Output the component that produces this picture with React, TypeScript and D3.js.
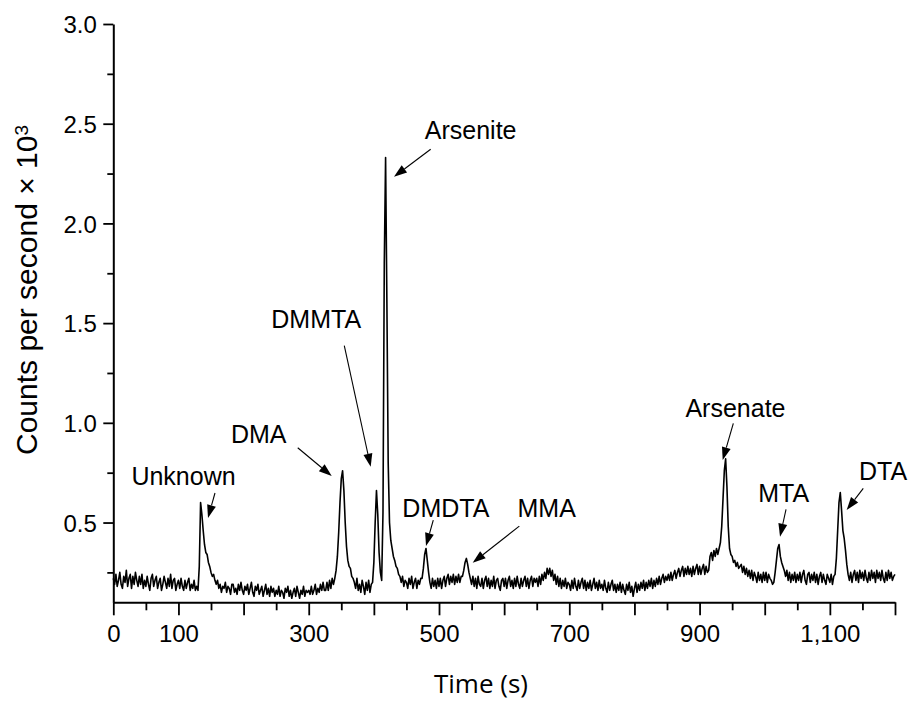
import { useEffect, useRef } from 'react'
import * as d3 from 'd3'

// detector readings, counts per second x 10^3, one every 2 s from 0 to 1200 s
const sampleStep = 2
const counts = [
  0.22, 0.19, 0.24, 0.18, 0.21, 0.25, 0.19, 0.17, 0.23, 0.20, 0.26, 0.18, 0.22, 0.24, 0.17, 0.23, 0.19, 0.25, 0.21, 0.18, 0.23, 0.19, 0.24, 0.17, 0.21,
  0.18, 0.23, 0.19, 0.16, 0.22, 0.24, 0.18, 0.21, 0.23, 0.17, 0.20, 0.22, 0.16, 0.19, 0.23, 0.20, 0.17, 0.22, 0.18, 0.24, 0.17, 0.21, 0.22, 0.16, 0.19,
  0.21, 0.17, 0.22, 0.18, 0.16, 0.21, 0.17, 0.20, 0.22, 0.16, 0.19, 0.17, 0.21, 0.16, 0.18, 0.16, 0.28, 0.60, 0.54, 0.46, 0.39, 0.35, 0.34, 0.30, 0.28,
  0.25, 0.23, 0.24, 0.21, 0.19, 0.21, 0.17, 0.19, 0.15, 0.18, 0.17, 0.20, 0.15, 0.18, 0.17, 0.14, 0.19, 0.19, 0.15, 0.17, 0.14, 0.19, 0.16, 0.20, 0.16,
  0.14, 0.18, 0.16, 0.19, 0.14, 0.17, 0.20, 0.15, 0.13, 0.18, 0.16, 0.19, 0.14, 0.16, 0.18, 0.13, 0.16, 0.19, 0.14, 0.17, 0.13, 0.18, 0.15, 0.17, 0.13,
  0.16, 0.14, 0.18, 0.13, 0.16, 0.15, 0.12, 0.17, 0.15, 0.18, 0.13, 0.16, 0.12, 0.15, 0.17, 0.13, 0.18, 0.15, 0.12, 0.16, 0.14, 0.18, 0.13, 0.16, 0.15,
  0.16, 0.14, 0.18, 0.14, 0.16, 0.19, 0.14, 0.17, 0.15, 0.19, 0.16, 0.20, 0.16, 0.16, 0.20, 0.16, 0.21, 0.17, 0.22, 0.19, 0.22, 0.26, 0.33, 0.45, 0.60,
  0.72, 0.76, 0.66, 0.50, 0.38, 0.31, 0.28, 0.27, 0.23, 0.22, 0.20, 0.17, 0.22, 0.16, 0.19, 0.15, 0.21, 0.18, 0.14, 0.20, 0.16, 0.21, 0.15, 0.19, 0.20,
  0.30, 0.50, 0.66, 0.54, 0.35, 0.25, 0.21, 0.55, 1.80, 2.33, 1.60, 0.80, 0.50, 0.41, 0.37, 0.33, 0.31, 0.28, 0.27, 0.24, 0.23, 0.20, 0.23, 0.18, 0.21,
  0.20, 0.17, 0.22, 0.19, 0.23, 0.17, 0.20, 0.22, 0.17, 0.21, 0.19, 0.22, 0.22, 0.27, 0.34, 0.37, 0.31, 0.25, 0.20, 0.17, 0.22, 0.18, 0.21, 0.17, 0.22,
  0.18, 0.22, 0.17, 0.21, 0.23, 0.18, 0.22, 0.24, 0.19, 0.23, 0.20, 0.24, 0.19, 0.23, 0.20, 0.24, 0.20, 0.23, 0.23, 0.26, 0.30, 0.32, 0.29, 0.25, 0.22,
  0.19, 0.23, 0.18, 0.22, 0.17, 0.23, 0.19, 0.18, 0.22, 0.17, 0.21, 0.23, 0.18, 0.22, 0.17, 0.21, 0.18, 0.23, 0.17, 0.21, 0.22, 0.18, 0.16, 0.21, 0.22,
  0.18, 0.22, 0.17, 0.21, 0.23, 0.18, 0.21, 0.17, 0.22, 0.18, 0.23, 0.19, 0.17, 0.22, 0.18, 0.21, 0.23, 0.18, 0.22, 0.17, 0.21, 0.23, 0.18, 0.22, 0.20,
  0.22, 0.18, 0.23, 0.19, 0.24, 0.21, 0.25, 0.22, 0.27, 0.24, 0.27, 0.23, 0.26, 0.21, 0.24, 0.19, 0.23, 0.18, 0.22, 0.17, 0.21, 0.18, 0.22, 0.17, 0.20,
  0.19, 0.16, 0.21, 0.17, 0.22, 0.18, 0.16, 0.21, 0.17, 0.20, 0.22, 0.17, 0.21, 0.16, 0.20, 0.17, 0.21, 0.16, 0.19, 0.22, 0.17, 0.20, 0.16, 0.21, 0.17,
  0.19, 0.16, 0.21, 0.17, 0.15, 0.20, 0.16, 0.19, 0.21, 0.16, 0.19, 0.15, 0.19, 0.16, 0.20, 0.15, 0.19, 0.16, 0.14, 0.19, 0.16, 0.20, 0.15, 0.18, 0.13,
  0.17, 0.20, 0.15, 0.19, 0.16, 0.20, 0.17, 0.21, 0.16, 0.20, 0.17, 0.21, 0.18, 0.22, 0.17, 0.21, 0.18, 0.22, 0.19, 0.23, 0.19, 0.22, 0.24, 0.20, 0.23,
  0.21, 0.24, 0.21, 0.25, 0.21, 0.24, 0.26, 0.22, 0.25, 0.27, 0.23, 0.26, 0.28, 0.23, 0.27, 0.24, 0.28, 0.24, 0.27, 0.23, 0.28, 0.24, 0.27, 0.29, 0.24,
  0.28, 0.24, 0.27, 0.29, 0.24, 0.28, 0.25, 0.26, 0.33, 0.35, 0.31, 0.36, 0.33, 0.37, 0.34, 0.37, 0.40, 0.48, 0.62, 0.76, 0.82, 0.68, 0.48, 0.37, 0.34,
  0.33, 0.30, 0.31, 0.28, 0.30, 0.27, 0.28, 0.29, 0.25, 0.28, 0.24, 0.27, 0.23, 0.26, 0.22, 0.26, 0.21, 0.25, 0.23, 0.20, 0.25, 0.21, 0.24, 0.20, 0.25,
  0.21, 0.25, 0.20, 0.24, 0.22, 0.21, 0.19, 0.20, 0.25, 0.31, 0.37, 0.39, 0.33, 0.30, 0.28, 0.26, 0.23, 0.26, 0.21, 0.25, 0.20, 0.24, 0.21, 0.25, 0.20,
  0.24, 0.21, 0.25, 0.20, 0.24, 0.26, 0.21, 0.19, 0.24, 0.25, 0.20, 0.24, 0.21, 0.25, 0.20, 0.24, 0.19, 0.23, 0.25, 0.20, 0.24, 0.21, 0.19, 0.24, 0.22,
  0.20, 0.24, 0.19, 0.23, 0.24, 0.32, 0.46, 0.60, 0.65, 0.56, 0.46, 0.42, 0.36, 0.29, 0.24, 0.21, 0.25, 0.20, 0.24, 0.26, 0.21, 0.25, 0.20, 0.26, 0.22,
  0.25, 0.21, 0.26, 0.22, 0.20, 0.25, 0.21, 0.26, 0.22, 0.25, 0.20, 0.26, 0.22, 0.25, 0.21, 0.26, 0.22, 0.20, 0.25, 0.21, 0.26, 0.22, 0.25, 0.21, 0.23,
  0.24,
]

const xTicks = [0, 50, 100, 150, 200, 250, 300, 350, 400, 450, 500, 550, 600, 650, 700, 750, 800, 850, 900, 950, 1000, 1050, 1100, 1150, 1200]
const xLabelled = [0, 100, 300, 500, 700, 900, 1100]
const yTicks = [0.25, 0.5, 0.75, 1.0, 1.25, 1.5, 1.75, 2.0, 2.25, 2.5, 2.75, 3.0]
const yLabelled = [0.5, 1.0, 1.5, 2.0, 2.5, 3.0]

// peak annotations, in data coordinates [time, counts]
const peakNames = ['Unknown', 'DMA', 'DMMTA', 'Arsenite', 'DMDTA', 'MMA', 'Arsenate', 'MTA', 'DTA']
const labelAt = [[107.8, 0.688], [223.2, 0.899], [311.5, 1.474], [548.6, 2.422], [510.5, 0.529], [665.3, 0.528], [955.1, 1.031], [1029.1, 0.604], [1181.6, 0.713]]
const arrowFrom = [[156.1, 0.648], [283.1, 0.875], [354.6, 1.387], [487.2, 2.372], [491.2, 0.5125], [623.3, 0.482], [951.8, 0.997], [1032.7, 0.566], [1151.3, 0.671]]
const arrowTo = [[145.4, 0.523], [335.3, 0.733], [395.1, 0.78], [430.9, 2.234], [480.0, 0.382], [551.7, 0.298], [935.5, 0.813], [1023.5, 0.429], [1125.8, 0.563]]

const font = "'Liberation Sans', Arial, sans-serif"

export default function App() {
  const svgRef = useRef<SVGSVGElement>(null)

  useEffect(() => {
    if (!svgRef.current) return
    const svg = d3.select(svgRef.current)
    svg.selectAll('*').remove()

    const x = d3.scaleLinear().domain([0, 1200]).range([113.3, 895])
    const y = d3.scaleLinear().domain([0.1, 3.0]).range([602.3, 24])

    // x axis
    const gx = svg
      .append('g')
      .attr('transform', `translate(0,${y(0.1)})`)
      .call(
        d3
          .axisBottom(x)
          .tickValues(xTicks)
          .tickSizeOuter(0)
          .tickSizeInner(13)
          .tickFormat((d) => (xLabelled.includes(+d) ? d3.format(',')(+d) : ''))
      )
    gx.attr('font-family', font).attr('font-size', 24)
    gx.select('.domain').attr('stroke-width', 2)
    gx.selectAll<SVGLineElement, number>('.tick line')
      .attr('stroke-width', 1.8)
      .attr('y2', (d) => (d % 100 === 0 ? 13 : 8))
    gx.selectAll('.tick text').attr('y', 39.4).attr('dy', 0).attr('fill', '#000')

    // y axis
    const gy = svg
      .append('g')
      .attr('transform', `translate(${x(0)},0)`)
      .call(
        d3
          .axisLeft(y)
          .tickValues(yTicks)
          .tickSizeOuter(0)
          .tickSizeInner(10)
          .tickFormat((d) => (yLabelled.includes(+d) ? d3.format('.1f')(+d) : ''))
      )
    gy.attr('font-family', font).attr('font-size', 24)
    gy.select('.domain').attr('stroke-width', 2)
    gy.selectAll<SVGLineElement, number>('.tick line')
      .attr('stroke-width', 1.8)
      .attr('x2', (d) => (yLabelled.includes(d) ? -10 : -6))
    gy.selectAll('.tick text').attr('x', -16.5).attr('dy', '0.36em').attr('fill', '#000')

    // trace
    const line = d3
      .line<number>()
      .x((_, i) => x(i * sampleStep))
      .y((d) => y(d))
    svg
      .append('path')
      .datum(counts)
      .attr('d', line)
      .attr('fill', 'none')
      .attr('stroke', '#000')
      .attr('stroke-width', 1.6)
      .attr('stroke-linejoin', 'round')

    // annotations
    const ann = svg.append('g').attr('font-family', font).attr('font-size', 25)
    peakNames.forEach((name, i) => {
      ann
        .append('text')
        .attr('x', x(labelAt[i][0]))
        .attr('y', y(labelAt[i][1]))
        .attr('text-anchor', 'middle')
        .attr('fill', '#000')
        .text(name)

      const x1 = x(arrowFrom[i][0])
      const y1 = y(arrowFrom[i][1])
      const x2 = x(arrowTo[i][0])
      const y2 = y(arrowTo[i][1])
      const len = Math.hypot(x2 - x1, y2 - y1)
      const ux = (x2 - x1) / len
      const uy = (y2 - y1) / len
      const head = 13
      const half = 4.5
      const bx = x2 - ux * head
      const by = y2 - uy * head
      ann
        .append('line')
        .attr('x1', x1)
        .attr('y1', y1)
        .attr('x2', bx)
        .attr('y2', by)
        .attr('stroke', '#000')
        .attr('stroke-width', 1.1)
      ann
        .append('polygon')
        .attr('points', `${x2},${y2} ${bx - uy * half},${by + ux * half} ${bx + uy * half},${by - ux * half}`)
        .attr('fill', '#000')
    })

    // axis titles
    svg
      .append('text')
      .attr('x', 481)
      .attr('y', 693)
      .attr('text-anchor', 'middle')
      .attr('font-family', "'Open Sans', 'Noto Sans', sans-serif")
      .attr('font-size', 26)
      .attr('fill', '#000')
      .text('Time (s)')

    const yt = svg
      .append('text')
      .attr('transform', 'translate(37,290) rotate(-90)')
      .attr('text-anchor', 'middle')
      .attr('font-family', font)
      .attr('font-size', 30)
      .attr('fill', '#000')
    yt.append('tspan').text('Counts per second × 10')
    yt.append('tspan').attr('dy', '-0.45em').attr('font-size', 19).text('3')
  }, [])

  return (
    <div style={{ position: 'absolute', left: 0, top: 0 }}>
      <svg ref={svgRef} width={914} height={702} />
    </div>
  )
}
